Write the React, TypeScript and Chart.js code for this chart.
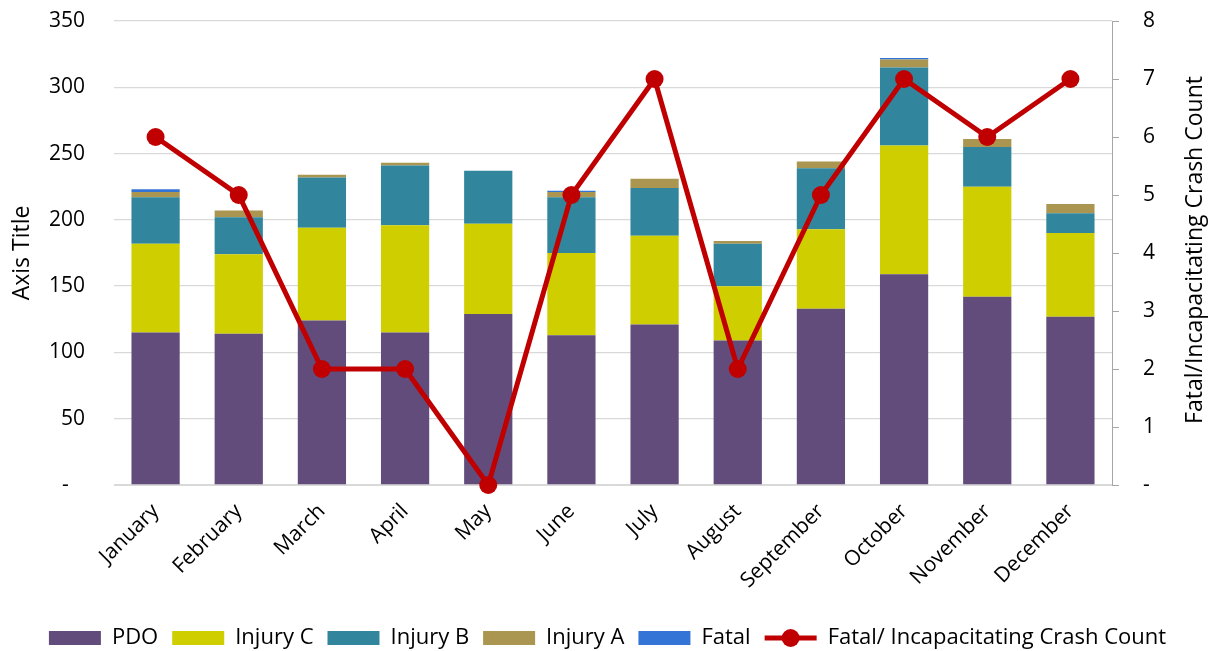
import React, { useEffect, useRef } from 'react';
import { Chart, registerables } from 'chart.js';

Chart.register(...registerables);

const FONT = "'Open Sans', sans-serif";

const months = ['January', 'February', 'March', 'April', 'May', 'June', 'July', 'August', 'September', 'October', 'November', 'December'];
const pdo = [115, 114, 124, 115, 129, 113, 121, 109, 133, 159, 142, 127];
const injuryC = [67, 60, 70, 81, 68, 62, 67, 41, 60, 97, 83, 63];
const injuryB = [35, 28, 38, 45, 40, 42, 36, 32, 46, 59, 30, 15];
const injuryA = [4, 5, 2, 2, 0, 4, 7, 2, 5, 6, 6, 7];
const fatal = [2, 0, 0, 0, 0, 1, 0, 0, 0, 1, 0, 0];
const fatalIncap = [6, 5, 2, 2, 0, 5, 7, 2, 5, 7, 6, 7];

const leftTitle = 'Axis Title';
const rightTitle = 'Fatal/Incapacitating Crash Count';
const lineLabel = 'Fatal/ Incapacitating Crash Count';

const colors = {
  pdo: '#624C7C',
  c: '#CECE00',
  b: '#31869D',
  a: '#AA9650',
  fatal: '#3574D7',
  line: '#C00000',
};

export default function App() {
  const ref = useRef<HTMLCanvasElement>(null);

  useEffect(() => {
    if (!ref.current) return;

    const rightTitlePlugin = {
      id: 'rightTitlePlugin',
      afterDraw(chart: any) {
        const { ctx, chartArea } = chart;
        ctx.save();
        ctx.translate(1195, (chartArea.top + chartArea.bottom) / 2 - 3);
        ctx.rotate(-Math.PI / 2);
        ctx.font = `23px ${FONT}`;
        ctx.fillStyle = '#000';
        ctx.textAlign = 'center';
        ctx.textBaseline = 'middle';
        ctx.fillText(rightTitle, 0, 0);
        ctx.restore();
      },
    };

    const legendShiftPlugin = {
      id: 'legendShiftPlugin',
      afterLayout(chart: any) {
        const lg = chart.legend;
        if (!lg) return;
        lg.top += 8;
        lg.bottom += 8;
      },
    };

    const legendLinePlugin = {
      id: 'legendLinePlugin',
      afterDraw(chart: any) {
        const lg = chart.legend;
        if (!lg || !lg.legendHitBoxes || !lg.legendItems) return;
        const { ctx } = chart;
        lg.legendItems.forEach((it: any, i: number) => {
          if (it.text !== lineLabel) return;
          const hb = lg.legendHitBoxes[i];
          const cy = hb.top + hb.height / 2;
          const x0 = hb.left;
          const w = 52;
          ctx.save();
          ctx.strokeStyle = colors.line;
          ctx.lineWidth = 5;
          ctx.beginPath();
          ctx.moveTo(x0, cy);
          ctx.lineTo(x0 + w, cy);
          ctx.stroke();
          ctx.fillStyle = colors.line;
          ctx.beginPath();
          ctx.arc(x0 + w / 2, cy, 9, 0, Math.PI * 2);
          ctx.fill();
          ctx.restore();
        });
      },
    };

    const barDs = (label: string, data: number[], color: string) => ({
      type: 'bar' as const,
      label,
      data,
      backgroundColor: color,
      borderWidth: 0,
      yAxisID: 'y',
      stack: 's',
      order: 1,
      categoryPercentage: 1,
      barPercentage: 0.58,
    });

    const chart = new Chart(ref.current, {
      type: 'bar',
      data: {
        labels: months,
        datasets: [
          barDs('PDO', pdo, colors.pdo),
          barDs('Injury C', injuryC, colors.c),
          barDs('Injury B', injuryB, colors.b),
          barDs('Injury A', injuryA, colors.a),
          barDs('Fatal', fatal, colors.fatal),
          {
            type: 'line' as const,
            label: lineLabel,
            data: fatalIncap,
            yAxisID: 'y1',
            borderColor: colors.line,
            backgroundColor: colors.line,
            borderWidth: 5,
            pointRadius: 9,
            pointBackgroundColor: colors.line,
            pointBorderColor: colors.line,
            pointBorderWidth: 0,
            tension: 0,
            order: 0,
            clip: false as any,
          },
        ] as any,
      },
      options: {
        responsive: true,
        maintainAspectRatio: false,
        animation: false,
        layout: { padding: { top: 21, left: 0, right: 0, bottom: 0 } },
        plugins: {
          tooltip: { enabled: false },
          legend: {
            position: 'bottom',
            labels: {
              font: { family: FONT, size: 22 },
              color: '#000',
              boxWidth: 52,
              boxHeight: 14,
              padding: 14,
              generateLabels(chart: any) {
                const items = Chart.defaults.plugins.legend.labels.generateLabels(chart);
                items.sort((a: any, b: any) => a.datasetIndex - b.datasetIndex);
                items.forEach((it: any) => {
                  if (it.text === lineLabel) {
                    it.fillStyle = 'rgba(0,0,0,0)';
                    it.strokeStyle = 'rgba(0,0,0,0)';
                    it.lineWidth = 0;
                  } else {
                    it.lineWidth = 0;
                  }
                });
                return items;
              },
            },
          },
        },
        scales: {
          x: {
            stacked: true,
            grid: { display: false },
            border: { display: true, color: '#D9D9D9', width: 1 },
            ticks: {
              font: { family: FONT, size: 21 },
              color: '#000',
              maxRotation: 45,
              minRotation: 45,
              padding: 6,
            },
            afterFit(scale: any) {
              scale.height = 120;
            },
          },
          y: {
            stacked: true,
            position: 'left',
            min: 0,
            max: 350,
            ticks: {
              stepSize: 50,
              font: { family: FONT, size: 21 },
              color: '#000',
              padding: 29,
              callback: (v: any) => (v === 0 ? '-   ' : String(v)),
            },
            grid: { color: '#D9D9D9', lineWidth: 1.3, drawTicks: false },
            border: { display: false },
            title: {
              display: true,
              text: leftTitle,
              font: { family: FONT, size: 23 },
              color: '#000',
              padding: { top: 9, bottom: 0 },
            },
            afterFit(scale: any) {
              scale.width = 114;
              scale.paddingTop = 10;
              scale.paddingBottom = 10;
            },
          },
          y1: {
            position: 'right',
            min: 0,
            max: 8,
            ticks: {
              stepSize: 1,
              font: { family: FONT, size: 21 },
              color: '#000',
              padding: 24,
              callback: (v: any) => (v === 0 ? '-' : String(v)),
            },
            grid: { drawOnChartArea: false, drawTicks: true, tickLength: 7, color: '#A6A6A6' },
            border: { display: true, color: '#A6A6A6', width: 1 },
            afterFit(scale: any) {
              scale.width = 103;
              scale.paddingTop = 10;
              scale.paddingBottom = 10;
            },
          },
        },
      },
      plugins: [legendShiftPlugin, rightTitlePlugin, legendLinePlugin],
    });

    return () => chart.destroy();
  }, []);

  return (
    <div style={{ position: 'fixed', left: 0, top: 0, width: 1215, height: 651, background: '#fff' }}>
      <canvas ref={ref} />
    </div>
  );
}
